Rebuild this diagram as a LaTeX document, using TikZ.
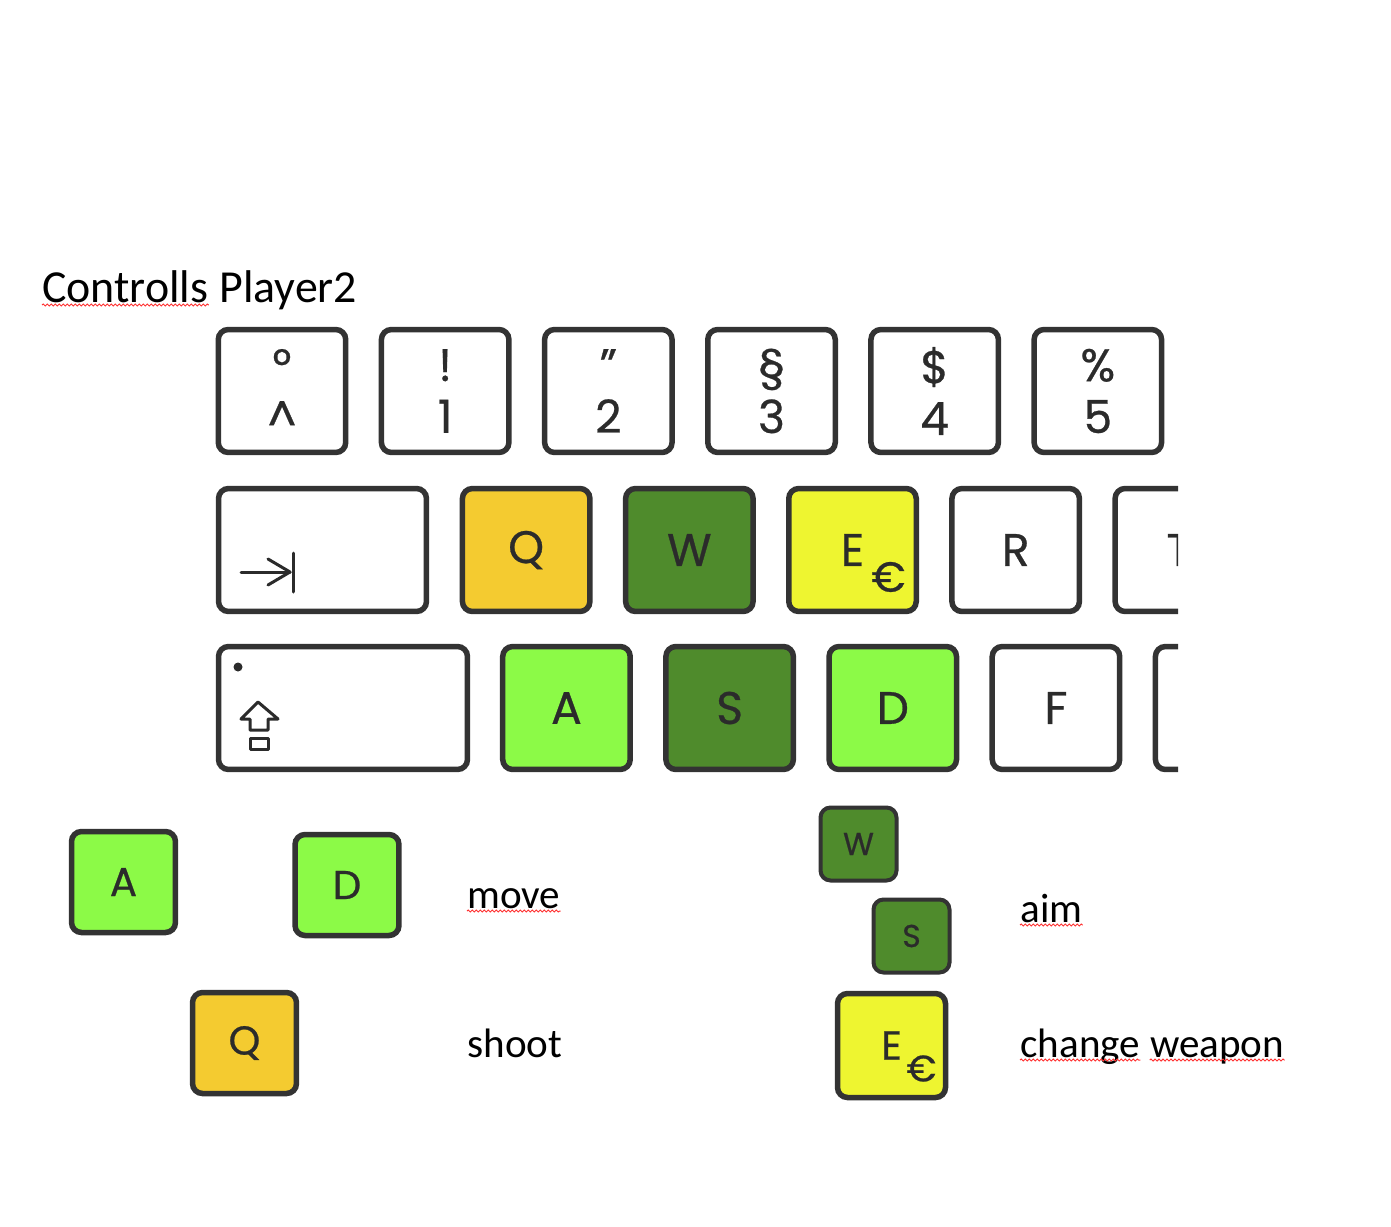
\documentclass[tikz,border=0pt]{standalone}
\usepackage{fontspec}
\setmainfont{Carlito}
\newfontfamily\keyfont[FakeBold=0.6]{Poppins}
\usepackage{tikz}
\usetikzlibrary{shapes.geometric, arrows, positioning}
\usetikzlibrary{decorations.pathmorphing}
\definecolor{keyline}{HTML}{333333}
\definecolor{keyink}{HTML}{2B2B2B}
\definecolor{movecol}{HTML}{8CFA47}
\definecolor{aimcol}{HTML}{4F8B2C}
\definecolor{shootcol}{HTML}{F4CB30}
\definecolor{swapcol}{HTML}{EEF530}
\tikzstyle{key} = [rectangle, rounded corners=0.2cm, draw=keyline, line width=0.11cm, fill=white, text=keyink, minimum width=2.55cm, minimum height=2.46cm, inner sep=0pt, align=center, font=\keyfont\fontsize{26}{29.5}\selectfont]
\tikzstyle{smallkey} = [key, minimum width=2.08cm, minimum height=2.02cm, font=\keyfont\fontsize{23}{26}\selectfont]
\tikzstyle{tinykey} = [key, line width=0.08cm, minimum width=1.52cm, minimum height=1.46cm, font=\keyfont\fontsize{18}{20}\selectfont]
\tikzstyle{keylabel} = [inner sep=0pt, text=keyink, font=\keyfont\fontsize{24}{24}\selectfont]
\tikzstyle{caption} = [anchor=base west, inner sep=0pt, font=\fontsize{23.4}{27}\selectfont]
\tikzstyle{glyph} = [line width=0.06cm, draw=keyink, line cap=round, line join=round]
\tikzstyle{typo} = [draw=red!80, line width=0.02cm, decorate, decoration={snake, amplitude=0.02cm, segment length=0.08cm}]

\begin{document}
\begin{tikzpicture}[x=0.02cm, y=-0.02cm, node distance=3.264cm]
    \useasboundingbox (0,0) rectangle (1391,1226);

    \node(title) [caption, font=\fontsize{26.1}{30}\selectfont] at (42,302) {Controlls};
    \node(title2) [caption, font=\fontsize{26.1}{30}\selectfont] at ([xshift=5.9pt]title.base east) {Player2};

    \begin{scope}
        \clip (0,0) rectangle (1178,1226);
        \node(key0) [key] at (282,391) {°\\\textasciicircum};
        \node(key1) [key, right of=key0] {!\\1};
        \node(key2) [key, right of=key1] {”\\2};
        \node(key3) [key, right of=key2] {§\\3};
        \node(key4) [key, right of=key3] {\$\\4};
        \node(key5) [key, right of=key4] {\%\\5};

        \node(tab) [key, minimum width=4.16cm] at (322.5,550) {};
        \node(keyQ) [key, fill=shootcol, right of=tab, xshift=0.81cm] {Q};
        \node(keyW) [key, fill=aimcol, right of=keyQ] {W};
        \node(keyE) [key, fill=swapcol, right of=keyW] {E};
        \node(keyR) [key, right of=keyE] {R};
        \node(keyT) [key, right of=keyR] {T};

        \node(shift) [key, minimum width=4.98cm] at (343,708) {};
        \node(keyA) [key, fill=movecol, right of=shift, xshift=1.206cm] {A};
        \node(keyS) [key, fill=aimcol, right of=keyA] {S};
        \node(keyD) [key, fill=movecol, right of=keyS] {D};
        \node(keyF) [key, right of=keyD] {F};
        \node(keyG) [key, right of=keyF] {};
    \end{scope}
    \node(keyEeuro) [keylabel] at ([xshift=0.72cm, yshift=-0.54cm]keyE.center) {€};

    % tab and shift symbols
    \draw[glyph] (241,572) -- (290,572);
    \draw[glyph] (268,559) -- (290,572) -- (268,585);
    \draw[glyph] (293,553) -- (293,592);
    \fill[keyink] (238,667) circle (0.09cm);
    \draw[glyph] (258,702) -- (278,719) -- (268,719) -- (268,730) -- (250,730) -- (250,719) -- (241,719) -- cycle;
    \draw[glyph] (250,738) rectangle (268,749);

    \node(moveA) [smallkey, fill=movecol] at (123.5,882) {A};
    \node(moveD) [smallkey, fill=movecol] at (347,885) {D};
    \node(shootQ) [smallkey, fill=shootcol] at (244.5,1043) {Q};
    \node(aimW) [tinykey, fill=aimcol] at (858.5,844) {W};
    \node(aimS) [tinykey, fill=aimcol] at (911.5,936) {S};
    \node(swapE) [smallkey, fill=swapcol, minimum width=2.16cm, minimum height=2.08cm] at (891.5,1045.5) {E};
    \node(swapEeuro) [keylabel, font=\keyfont\fontsize{21}{21}\selectfont] at ([xshift=0.6cm, yshift=-0.46cm]swapE.center) {€};

    \node(move) [caption] at (467,908) {move};
    \node(shoot) [caption] at (467,1057) {shoot};
    \node(aim) [caption] at (1020,922) {aim};
    \node(change) [caption] at (1020,1057) {change};
    \node(weapon) [caption] at ([xshift=5.3pt]change.base east) {weapon};

    % spell check marks
    \draw[typo] ([yshift=-0.06cm]title.base west) -- ([yshift=-0.06cm]title.base east);
    \draw[typo] ([yshift=-0.06cm]move.base west) -- ([yshift=-0.06cm]move.base east);
    \draw[typo] ([yshift=-0.06cm]aim.base west) -- ([yshift=-0.06cm]aim.base east);
    \draw[typo] ([yshift=-0.06cm]change.base west) -- ([yshift=-0.06cm]change.base east);
    \draw[typo] ([yshift=-0.06cm]weapon.base west) -- ([yshift=-0.06cm]weapon.base east);
\end{tikzpicture}
\end{document}
